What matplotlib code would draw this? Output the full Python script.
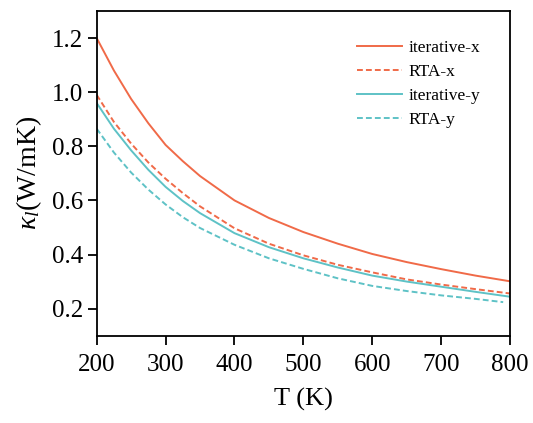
import matplotlib
matplotlib.use('Agg')
import matplotlib.pyplot as plt

# temperatures (K) and lattice thermal conductivity (W/mK)
T = [200, 225, 250, 275, 300, 325, 350, 400, 450, 500, 550, 600, 650, 700, 750, 800]
T_rta_y = [200, 225, 250, 275, 300, 325, 350, 400, 450, 500, 550, 600, 650, 700, 750, 790]

iter_x = [1.20, 1.08, 0.975, 0.885, 0.805, 0.745, 0.69, 0.60, 0.535, 0.483, 0.44, 0.402, 0.372, 0.346, 0.322, 0.301]
rta_x = [0.99, 0.89, 0.81, 0.74, 0.68, 0.627, 0.578, 0.497, 0.44, 0.397, 0.362, 0.334, 0.308, 0.289, 0.272, 0.256]
iter_y = [0.96, 0.865, 0.785, 0.713, 0.65, 0.598, 0.553, 0.479, 0.427, 0.386, 0.352, 0.322, 0.30, 0.281, 0.262, 0.244]
rta_y = [0.865, 0.777, 0.703, 0.64, 0.585, 0.538, 0.498, 0.436, 0.386, 0.347, 0.312, 0.284, 0.265, 0.249, 0.236, 0.224]

xticks = [200, 300, 400, 500, 600, 700, 800]
yticks = [0.2, 0.4, 0.6, 0.8, 1.0, 1.2]

plt.rcParams['font.family'] = ['Liberation Serif', 'DejaVu Serif']
plt.rcParams['mathtext.fontset'] = 'custom'
plt.rcParams['mathtext.rm'] = 'Liberation Serif'
plt.rcParams['mathtext.it'] = 'Liberation Serif:italic'

c_x = '#F06A48'
c_y = '#5EC2C6'

fig = plt.figure(figsize=(5.33, 4.23), dpi=100)
ax = fig.add_axes([0.1814, 0.2064, 0.7756, 0.7676])

ax.plot(T, iter_x, color=c_x, lw=1.4, label='iterative-x')
ax.plot(T, rta_x, color=c_x, lw=1.4, dashes=(3, 1.6), label='RTA-x')
ax.plot(T, iter_y, color=c_y, lw=1.4, label='iterative-y')
ax.plot(T_rta_y, rta_y, color=c_y, lw=1.4, dashes=(3, 1.6), label='RTA-y')

ax.set_xlim(200, 800)
ax.set_ylim(0.1, 1.3)
ax.set_xticks(xticks)
ax.set_yticks(yticks)
ax.set_yticklabels(['%.1f' % v for v in yticks])
ax.tick_params(direction='out', length=6.5, width=1.3, labelsize=18)
ax.tick_params(axis='x', pad=7)
ax.tick_params(axis='y', pad=3)
for s in ax.spines.values():
    s.set_linewidth(1.3)

ax.set_xlabel('T (K)', fontsize=19, labelpad=8)
ax.set_ylabel(r'$\kappa_l$(W/mK)', fontsize=20, labelpad=6)

ax.legend(loc='upper left', bbox_to_anchor=(0.63, 0.91), frameon=False,
          fontsize=12.5, borderpad=0, handlelength=2.6, handletextpad=0.36,
          labelspacing=0.44, borderaxespad=0)

fig.savefig('out.png', dpi=100)
